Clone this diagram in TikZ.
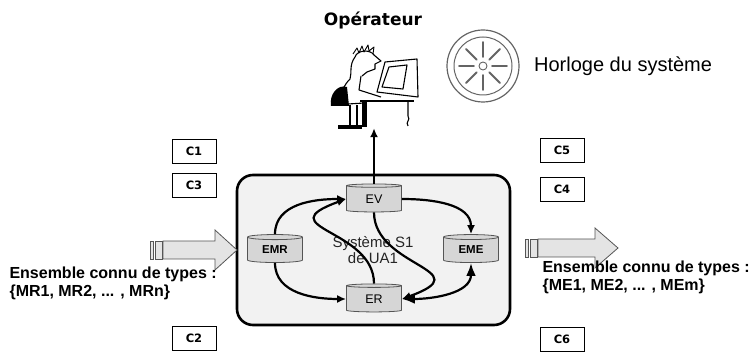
\documentclass[tikz,border=0pt]{standalone}
\usepackage{fontspec}
\setmainfont{Liberation Sans}
\newfontfamily\widefont{DejaVu Sans}
\usetikzlibrary{arrows.meta,shapes.geometric,positioning}
\definecolor{boxgray}{RGB}{242,242,242}
\definecolor{cylgray}{RGB}{214,214,214}
\definecolor{shaftgray}{RGB}{228,228,228}
\definecolor{edgegray}{RGB}{85,85,85}
\definecolor{clockgray}{RGB}{100,100,100}

\begin{document}
\begin{tikzpicture}[x=1pt,y=1pt,>=Latex]
  \tikzset{
    store/.style={cylinder, shape border rotate=90, aspect=0.2, draw=edgegray,
      fill=cylgray, line width=0.8pt, minimum width=55pt, minimum height=28pt,
      inner sep=0pt},
    cbox/.style={draw, line width=0.8pt, minimum width=44pt, minimum height=24pt,
      font=\widefont\bfseries\fontsize{11.5}{13}\selectfont},
    flow/.style={line width=2.2pt, -{Latex[length=9pt,width=8pt]}},
    shaft/.style={fill=shaftgray, draw=edgegray, line width=0.8pt},
    typeset/.style={anchor=west, align=left, font=\bfseries\fontsize{16}{18}\selectfont},
  }
  \useasboundingbox (0,0) rectangle (752,356);

  % system S1 frame
  \node[draw, line width=2.6pt, fill=boxgray, rounded corners=16pt,
    minimum width=273pt, minimum height=150pt] (sys) at (373.5,106) {};
  \node[align=center, font=\fontsize{15}{16}\selectfont, text=black!85] (syslbl)
    at (373,106) {Système S1\\de UA1};

  % the four stores
  \node[store, font=\bfseries\fontsize{11.5}{12}\selectfont] (EMR) at (275,106) {EMR};
  \node[store, font=\bfseries\fontsize{11.5}{12}\selectfont] (EME) at (471,106) {EME};
  \node[store, font=\fontsize{12.5}{13}\selectfont] (EV) at (374,157) {EV};
  \node[store, font=\fontsize{12.5}{13}\selectfont] (ER) at (374,57) {ER};

  \draw[flow] (EMR.north) to[out=90,in=180] (EV.west);
  \draw[flow] (EMR.south) to[out=-90,in=180] (ER.west);
  \draw[flow] (EV.east) to[out=0,in=90] (EME.north);
  \draw[flow,<->] (ER.east) to[out=0,in=-90] (EME.south);
  \draw[flow] (ER.north) .. controls +(90:55) and +(200:85) .. (EV.west);
  \draw[flow] (EV.south) .. controls +(-90:55) and +(20:85) .. (ER.east);

  % striped input / output arrows
  \draw[shaft] (150,97) rectangle (153,115);
  \draw[shaft] (155,97) rectangle (162,115);
  \draw[shaft] (163,97) -- (215,97) -- (215,86) -- (237,106) -- (215,126)
    -- (215,115) -- (163,115) -- cycle;
  \draw[shaft] (525,99) rectangle (528,117);
  \draw[shaft] (530,99) rectangle (537,117);
  \draw[shaft] (538,99) -- (595,99) -- (595,88) -- (618,108) -- (595,128)
    -- (595,117) -- (538,117) -- cycle;

  \node[typeset] (inset) at (6,73) {Ensemble connu de types :\\\{MR1, MR2, ... , MRn\}};
  \node[typeset] (outset) at (539,79) {Ensemble connu de types :\\\{ME1, ME2, ... , MEm\}};

  % constraints
  \node[cbox] (c1) at (194,205) {C1};
  \node[cbox, below=10pt of c1] (c3) {C3};
  \node[cbox] (c2) at (194,18) {C2};
  \node[cbox] (c5) at (562,206) {C5};
  \node[cbox, below=15pt of c5] (c4) {C4};
  \node[cbox] (c6) at (562,17) {C6};

  % operator at his desk
  \node[font=\widefont\bfseries\fontsize{17}{18}\selectfont] (optitle) at (373,336) {Opérateur};
  \node[minimum width=95pt, minimum height=84pt] (op) at (372,270) {};
  \draw[flow] (EV.north) -- (EV.north |- op.south);
  \begin{scope}[line width=1.1pt, line join=round]
    \draw (385,294) -- (417,297) -- (418,259) -- (377,264) -- cycle;
    \draw (389,289) -- (407,291) -- (403,267) -- (382,269) -- cycle;
    \draw[line width=2pt] (360,255) -- (414,255);
    \fill (362,229) rectangle (367,255);
    \draw (408,255) -- (408,240) .. controls (411,236) and (405,234) .. (408,230);
    \draw (355,299) .. controls (357,306) and (370,307) .. (374,301) -- (381,295)
      -- (375,292) -- (375,287) -- (367,284) -- (362,280);
    \draw[line width=0.9pt] (353,302) -- (357,308) -- (359,303) -- (362,310) -- (364,304)
      -- (368,311) -- (369,305) -- (374,309) -- (373,302);
    \draw (355,299) .. controls (349,291) and (352,283) .. (350,277)
      .. controls (344,271) and (340,263) .. (342,252);
    \fill (331,250) .. controls (329,262) and (338,272) .. (347,269) -- (349,250) -- cycle;
    \draw (361,280) -- (359,266) -- (381,259);
    \draw (348,252) -- (364,253);
    \draw (350,251) -- (350,231) (357,251) -- (357,231);
    \fill (338,227) rectangle (362,231);
  \end{scope}

  % system clock
  \node[circle, draw=clockgray, line width=1.2pt, minimum size=72pt] (clk) at (483,290) {};
  \draw[clockgray, line width=1pt] (clk.center) circle[radius=29];
  \draw[clockgray, line width=0.9pt] (clk.center) circle[radius=4];
  \foreach \a in {0,45,...,315}
    \draw[clockgray, line width=1.8pt, line cap=round, shift={(clk.center)}] (\a:9) -- (\a:24);
  \node[right=11pt of clk, font=\fontsize{20}{24}\selectfont] (clktxt) {Horloge du système};
\end{tikzpicture}
\end{document}
